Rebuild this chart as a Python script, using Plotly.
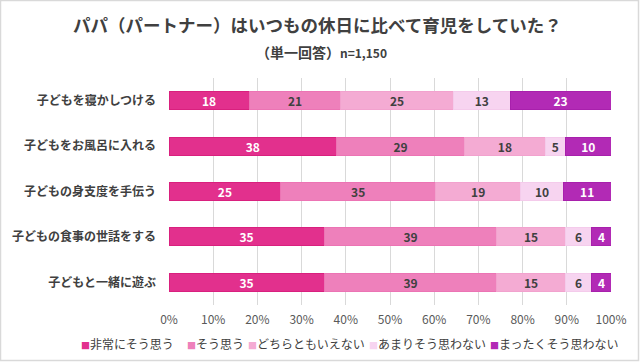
import plotly.graph_objects as go

categories = ["子どもを寝かしつける", "子どもをお風呂に入れる", "子どもの身支度を手伝う",
              "子どもの食事の世話をする", "子どもと一緒に遊ぶ"]
series_names = ["非常にそう思う", "そう思う", "どちらともいえない", "あまりそう思わない", "まったくそう思わない"]
s1 = [18.1, 37.9, 25.3, 35.1, 35.1]
s2 = [20.8, 29.0, 35.0, 39.1, 39.1]
s3 = [25.4, 18.2, 19.3, 15.4, 15.4]
s4 = [12.9, 4.6, 9.6, 6.1, 6.1]
s5 = [22.8, 10.3, 10.8, 4.3, 4.3]
tick_vals = [0, 10, 20, 30, 40, 50, 60, 70, 80, 90, 100]
tick_text = ["0%", "10%", "20%", "30%", "40%", "50%", "60%", "70%", "80%", "90%", "100%"]

colors = ["#E2308D", "#EE80BB", "#F4ABD3", "#F7D4F0", "#B22AB5"]
line_colors = ["#D9207E", "#EC74B4", "#F2A2CE", "#F4CBEB", "#A820AC"]
text_colors = ["white", "#404040", "#404040", "#404040", "white"]
series = [s1, s2, s3, s4, s5]

FONT = "Noto Sans CJK JP"
fig = go.Figure()
for name, vals, c, lc, tc in zip(series_names, series, colors, line_colors, text_colors):
    fig.add_trace(go.Bar(
        y=categories, x=vals, name=name, orientation="h",
        marker=dict(color=c, line=dict(color=lc, width=1)),
        text=[f"{round(v):d}" for v in vals], textposition="inside",
        insidetextanchor="middle", textangle=0, constraintext="none",
        textfont=dict(color=tc, size=12, family=FONT + ", sans-serif", weight="bold"),
        hoverinfo="skip", showlegend=False,
    ))

W, H = 640, 362
ml, mr, mt, mb = 169, 29, 78, 57
pw, ph = W - ml - mr, H - mt - mb

def px(x):
    return (x - ml) / pw

def py(y):
    return (H - mb - y) / ph

fig.update_layout(
    width=W, height=H, barmode="stack", bargap=0.6,
    margin=dict(l=ml, r=mr, t=mt, b=mb, autoexpand=False),
    paper_bgcolor="white", plot_bgcolor="white",
    font=dict(family=FONT + ", sans-serif", color="#404040"),
    uniformtext=dict(minsize=8, mode="show"),
    xaxis=dict(range=[0, 100], tickvals=tick_vals, ticktext=tick_text,
               showgrid=True, gridcolor="#D9D9D9", gridwidth=1, zeroline=False,
               tickfont=dict(size=12, color="#595959"), ticks="", ticklabelstandoff=6,
               automargin=False),
    yaxis=dict(autorange="reversed", showgrid=False,
               tickfont=dict(size=12, color="#404040", weight="bold"), ticks="",
               ticklabelstandoff=12, automargin=False),
    showlegend=False,
)

fig.add_annotation(text="パパ（パートナー）はいつもの休日に比べて育児をしていた？",
                   xref="paper", yref="paper", x=px(317), y=py(25),
                   xanchor="center", yanchor="middle", showarrow=False,
                   font=dict(size=17.5, color="#404040", weight="bold"))
fig.add_annotation(text="（単一回答）<span style='font-size:12px'>n=1,150</span>",
                   xref="paper", yref="paper", x=px(321), y=py(52),
                   xanchor="center", yanchor="middle", showarrow=False,
                   font=dict(size=14, color="#404040", weight="bold"))

# legend drawn as text items
legend_x = [79, 185, 246, 367, 488]
for name, c, lx in zip(series_names, colors, legend_x):
    fig.add_annotation(text=f"<span style='color:{c};font-size:9px'>■</span>{name}",
                       xref="paper", yref="paper", x=px(lx), y=py(343),
                       xanchor="left", yanchor="middle", showarrow=False,
                       font=dict(size=12, color="#404040"))

# outer border
fig.add_shape(type="rect", xref="paper", yref="paper",
              x0=px(0.5), x1=px(W - 1.5), y0=py(H - 1.5), y1=py(0.5),
              line=dict(color="#D9D9D9", width=1.5), fillcolor="rgba(0,0,0,0)", layer="below")

fig.write_html("out.html", config={"displayModeBar": False, "staticPlot": True},
               post_script="document.body.style.margin='0';document.body.style.overflow='hidden';")
